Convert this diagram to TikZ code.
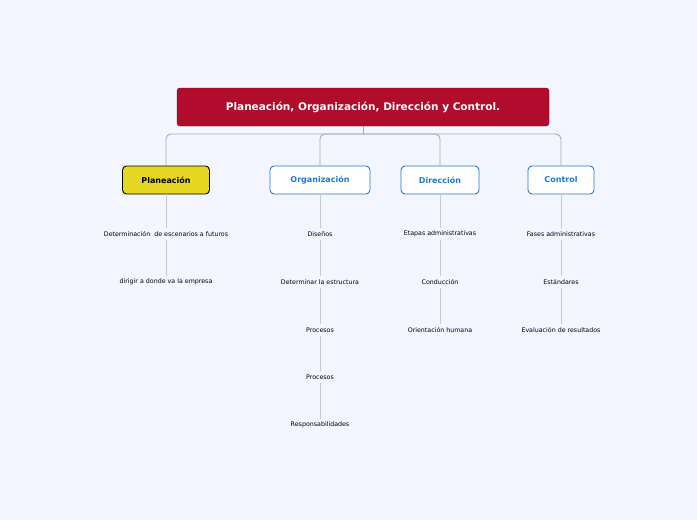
\documentclass[tikz,border=0pt]{standalone}
\usepackage{fontspec}
\setmainfont{DejaVu Sans}
\usetikzlibrary{positioning}
\definecolor{bgblue}{HTML}{F3F6FE}
\definecolor{titlered}{HTML}{B10C2C}
\definecolor{topicblue}{HTML}{1D7AD9}
\definecolor{plyellow}{HTML}{E5D622}
\definecolor{linegray}{HTML}{A4A8AE}
\tikzstyle{title} = [fill=titlered, draw=titlered!60!black, rounded corners=3pt, text=white, font=\bfseries\fontsize{10.5}{12}\selectfont, minimum width=372pt, minimum height=38pt]
\tikzstyle{topic} = [fill=white, draw=topicblue, line width=0.9pt, rounded corners=4pt, text=topicblue, font=\bfseries\fontsize{8}{10}\selectfont, minimum height=28pt]
\tikzstyle{sub} = [font=\fontsize{6.3}{8}\selectfont, inner sep=3pt]
\tikzstyle{link} = [draw=linegray, line width=0.9pt]
\tikzstyle{twig} = [draw=linegray!60, line width=0.5pt]

\begin{document}
\begin{tikzpicture}[x=1pt, y=-1pt]
\fill[bgblue] (0,0) rectangle (697,520);
\useasboundingbox (0,0) rectangle (697,520);

% Main nodes
\node[title]                                        (main) at (363,107) {Planeación, Organización, Dirección y Control.};
\node[topic, fill=plyellow, draw=black, text=black, minimum width=87pt] (plan) at (166,180) {Planeación};
\node[topic, minimum width=100pt]                   (org)  at (320,180) {Organización};
\node[topic, minimum width=78pt]                    (dir)  at (440,180) {Dirección};
\node[topic, minimum width=66pt]                    (ctl)  at (561,180) {Control};

% Sub items
\node[sub] (p1) at (166,234) {Determinación\ \ de escenarios a futuros};
\node[sub] (p2) at (166,282) {dirigir a donde va la empresa};
\node[sub] (o1) at (320,234) {Diseños};
\node[sub] (o2) at (320,282) {Determinar la estructura};
\node[sub] (o3) at (320,330) {Procesos};
\node[sub] (o4) at (320,377) {Procesos};
\node[sub] (o5) at (320,425) {Responsabilidades};
\node[sub] (d1) at (440,234) {Etapas administrativas};
\node[sub] (d2) at (440,282) {Conducción};
\node[sub] (d3) at (440,330) {Orientación humana};
\node[sub] (c1) at (561,234) {Fases administrativas};
\node[sub] (c2) at (561,282) {Estándares};
\node[sub] (c3) at (561,330) {Evaluación de resultados};

% Edges
\coordinate (hub) at (363,134);
\draw[link] (main.south) -- (hub);
\foreach \t in {plan,org,dir,ctl}
  \draw[link, rounded corners=5pt] (hub) -| (\t.north);
\foreach \a/\b in {plan/p1,p1/p2,org/o1,o1/o2,o2/o3,o3/o4,o4/o5,dir/d1,d1/d2,d2/d3,ctl/c1,c1/c2,c2/c3}
  \draw[twig] (\a.south) -- (\b.north);
\end{tikzpicture}
\end{document}
